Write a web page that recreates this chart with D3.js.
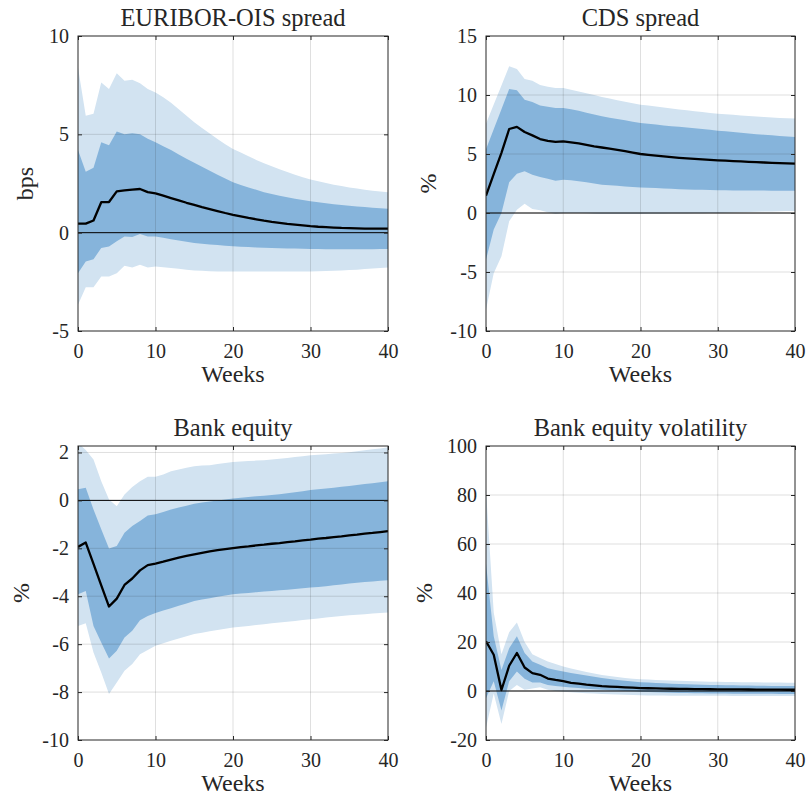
<!DOCTYPE html>
<meta charset="utf-8">
<style>
body { margin: 0; background: #fff; }
svg { font-family: "Liberation Serif", "Times New Roman", serif; }
.band-lo { fill: #d2e3f1; }
.band-hi { fill: #86b4db; }
.grid line { stroke: #262626; stroke-opacity: 0.15; stroke-width: 1; }
.median { fill: none; stroke: #000; stroke-width: 2.3; stroke-linejoin: round; }
.zero { stroke: #000; stroke-width: 1; }
.frame { fill: none; stroke: #262626; stroke-width: 1; }
</style>
<body>
<script src="https://cdn.jsdelivr.net/npm/d3@7"></script>
<script>

var FONT = "Liberation Serif";

var weeks = d3.range(0, 41);

// EURIBOR-OIS spread (bps)
var euriborMed  = [0.46,0.46,0.62,1.55,1.56,2.10,2.15,2.19,2.22,2.06,2.00,1.88,1.76,1.64,1.52,1.41,1.30,1.20,1.10,1.00,0.91,0.83,0.75,0.68,0.61,0.55,0.50,0.45,0.41,0.37,0.33,0.30,0.28,0.26,0.24,0.23,0.22,0.21,0.21,0.21,0.21];
var euriborHi68 = [4.20,3.10,3.30,4.60,4.45,5.15,5.00,5.05,5.00,4.78,4.60,4.40,4.20,3.98,3.76,3.55,3.35,3.15,2.95,2.75,2.56,2.43,2.30,2.18,2.06,1.96,1.88,1.80,1.73,1.66,1.60,1.55,1.50,1.45,1.41,1.37,1.33,1.30,1.27,1.24,1.22];
var euriborLo68 = [-2.06,-1.46,-1.35,-0.78,-0.70,-0.44,-0.19,-0.22,-0.07,-0.19,-0.19,-0.26,-0.33,-0.40,-0.46,-0.52,-0.56,-0.60,-0.63,-0.66,-0.69,-0.71,-0.73,-0.75,-0.77,-0.78,-0.79,-0.80,-0.81,-0.82,-0.83,-0.83,-0.84,-0.84,-0.84,-0.84,-0.84,-0.84,-0.84,-0.83,-0.83];
var euriborHi90 = [8.40,5.94,6.05,7.64,7.30,8.10,7.72,7.77,7.60,7.30,7.13,6.88,6.60,6.28,5.95,5.62,5.32,5.04,4.76,4.50,4.25,4.07,3.88,3.70,3.53,3.38,3.23,3.09,2.95,2.82,2.70,2.61,2.52,2.44,2.37,2.30,2.24,2.18,2.13,2.09,2.06];
var euriborLo90 = [-3.67,-2.77,-2.77,-2.23,-2.23,-2.06,-1.68,-1.77,-1.63,-1.77,-1.72,-1.76,-1.80,-1.84,-1.88,-1.92,-1.94,-1.96,-1.97,-1.97,-1.97,-1.98,-1.98,-1.98,-1.98,-1.98,-1.98,-1.98,-1.97,-1.97,-1.97,-1.96,-1.95,-1.94,-1.92,-1.90,-1.88,-1.85,-1.82,-1.80,-1.77];

// CDS spread (%)
var cdsMed  = [1.47,3.30,5.10,7.12,7.30,6.86,6.58,6.27,6.12,6.02,6.07,5.98,5.90,5.77,5.65,5.55,5.45,5.35,5.24,5.12,5.00,4.93,4.86,4.80,4.74,4.68,4.63,4.58,4.54,4.50,4.46,4.43,4.40,4.37,4.34,4.31,4.28,4.25,4.22,4.20,4.18];
var cdsHi68 = [5.40,7.10,8.80,10.50,10.40,9.60,9.40,9.10,9.00,8.90,8.90,8.80,8.66,8.50,8.35,8.20,8.08,7.96,7.85,7.74,7.63,7.56,7.49,7.42,7.36,7.30,7.24,7.18,7.12,7.05,6.98,6.92,6.86,6.80,6.74,6.68,6.63,6.58,6.53,6.48,6.44];
var cdsLo68 = [-3.95,-1.40,0.00,2.60,3.33,3.53,3.25,3.05,2.90,2.74,2.82,2.78,2.70,2.60,2.50,2.40,2.35,2.30,2.25,2.21,2.17,2.14,2.11,2.08,2.05,2.02,2.00,1.98,1.96,1.94,1.92,1.92,1.91,1.91,1.90,1.90,1.90,1.89,1.89,1.89,1.89];
var cdsHi90 = [7.57,9.20,10.80,12.43,12.20,11.36,11.20,10.85,10.70,10.60,10.60,10.45,10.30,10.15,10.00,9.83,9.70,9.56,9.43,9.30,9.18,9.10,9.02,8.94,8.86,8.78,8.70,8.62,8.55,8.48,8.42,8.37,8.32,8.27,8.22,8.17,8.13,8.09,8.06,8.03,8.00];
var cdsLo90 = [-8.20,-5.10,-3.67,-0.70,0.28,0.79,0.34,0.23,0.06,-0.08,0.00,0.00,0.00,-0.03,-0.06,-0.08,-0.08,-0.08,-0.08,-0.08,-0.08,-0.07,-0.07,-0.06,-0.05,-0.05,-0.04,-0.03,-0.02,-0.01,0.00,0.02,0.04,0.06,0.08,0.10,0.12,0.13,0.15,0.16,0.17];

// Bank equity (%)
var equityMed  = [-1.94,-1.76,-2.65,-3.55,-4.43,-4.10,-3.53,-3.26,-2.92,-2.70,-2.64,-2.56,-2.47,-2.39,-2.32,-2.25,-2.19,-2.13,-2.08,-2.03,-1.99,-1.95,-1.92,-1.88,-1.85,-1.81,-1.78,-1.74,-1.71,-1.67,-1.64,-1.60,-1.57,-1.53,-1.50,-1.46,-1.43,-1.39,-1.36,-1.32,-1.28];
var equityHi68 = [0.46,0.53,-0.38,-1.20,-2.01,-1.90,-1.35,-1.07,-0.86,-0.63,-0.58,-0.48,-0.38,-0.30,-0.22,-0.14,-0.09,-0.05,0.00,0.04,0.08,0.11,0.14,0.17,0.19,0.22,0.26,0.30,0.34,0.38,0.43,0.47,0.50,0.53,0.57,0.60,0.64,0.68,0.72,0.76,0.80];
var equityLo68 = [-3.92,-3.78,-5.24,-5.93,-6.60,-6.28,-5.72,-5.44,-5.00,-4.82,-4.70,-4.60,-4.50,-4.40,-4.30,-4.20,-4.14,-4.08,-4.02,-3.97,-3.92,-3.89,-3.86,-3.83,-3.80,-3.78,-3.75,-3.73,-3.70,-3.67,-3.64,-3.61,-3.58,-3.54,-3.51,-3.47,-3.44,-3.41,-3.38,-3.35,-3.33];
var equityHi90 = [2.40,2.10,1.71,0.80,0.04,-0.24,0.25,0.56,0.80,0.99,0.99,1.08,1.22,1.29,1.36,1.43,1.46,1.47,1.52,1.56,1.60,1.62,1.64,1.66,1.68,1.71,1.74,1.77,1.81,1.84,1.88,1.91,1.93,1.96,1.98,2.01,2.05,2.09,2.13,2.17,2.22];
var equityLo90 = [-5.24,-5.13,-6.35,-7.18,-8.08,-7.60,-7.11,-6.83,-6.42,-6.24,-6.07,-5.96,-5.86,-5.76,-5.67,-5.58,-5.52,-5.46,-5.41,-5.36,-5.31,-5.27,-5.24,-5.20,-5.17,-5.13,-5.10,-5.06,-5.03,-4.99,-4.96,-4.93,-4.89,-4.86,-4.82,-4.79,-4.77,-4.75,-4.72,-4.70,-4.68];

// Bank equity volatility (%)
var volMed  = [20.3,14.8,0.4,10.3,15.5,9.6,7.3,6.6,5.1,4.5,4.0,3.3,3.0,2.6,2.3,2.0,1.8,1.65,1.5,1.35,1.2,1.12,1.05,0.98,0.92,0.87,0.83,0.79,0.75,0.72,0.70,0.67,0.65,0.63,0.61,0.59,0.57,0.55,0.53,0.52,0.50];
var volHi68 = [52,22.3,8.6,17.5,22.3,15.5,12.0,10.7,9.3,8.6,8.0,7.3,6.8,6.3,5.8,5.3,4.9,4.5,4.2,3.9,3.6,3.45,3.3,3.15,3.0,2.9,2.8,2.7,2.6,2.5,2.42,2.36,2.3,2.25,2.2,2.16,2.12,2.08,2.05,2.02,2.0];
var volLo68 = [-3,4,-8,4,8,5,3.5,3.5,2.5,2.0,1.7,1.4,1.2,0.9,0.7,0.5,0.35,0.2,0.05,-0.1,-0.3,-0.4,-0.5,-0.6,-0.7,-0.78,-0.85,-0.9,-0.95,-1.0,-1.02,-1.05,-1.08,-1.1,-1.12,-1.14,-1.16,-1.17,-1.18,-1.19,-1.2];
var volHi90 = [82,32,15,24,28,20,15,13.5,12,11,10,9.2,8.5,7.8,7.1,6.5,6.1,5.7,5.3,5.0,4.8,4.65,4.5,4.38,4.26,4.15,4.05,3.96,3.88,3.82,3.76,3.71,3.66,3.61,3.57,3.53,3.49,3.46,3.43,3.41,3.4];
var volLo90 = [-15,-1,-13.5,0,2.5,0.5,1,1.5,0.5,0,-0.3,-0.5,-0.7,-0.9,-1.05,-1.2,-1.32,-1.44,-1.55,-1.65,-1.75,-1.8,-1.85,-1.88,-1.9,-1.92,-1.94,-1.95,-1.96,-1.97,-1.98,-1.98,-1.99,-1.99,-2,-2,-2,-2,-2,-2,-2];

var titles = ["EURIBOR-OIS spread", "CDS spread", "Bank equity", "Bank equity volatility"];
var yLabels = ["bps", "%", "%", "%"];
var yDomains = [[-5, 10], [-10, 15], [-10, 2.27], [-20, 100]];
var yTicks = [[-5, 0, 5, 10], [-10, -5, 0, 5, 10, 15], [-10, -8, -6, -4, -2, 0, 2], [-20, 0, 20, 40, 60, 80, 100]];
var xTicks = [0, 10, 20, 30, 40];

var series = [
  {med: euriborMed, hi68: euriborHi68, lo68: euriborLo68, hi90: euriborHi90, lo90: euriborLo90},
  {med: cdsMed, hi68: cdsHi68, lo68: cdsLo68, hi90: cdsHi90, lo90: cdsLo90},
  {med: equityMed, hi68: equityHi68, lo68: equityLo68, hi90: equityHi90, lo90: equityLo90},
  {med: volMed, hi68: volHi68, lo68: volLo68, hi90: volHi90, lo90: volLo90}
];

// panel boxes in page pixels
var boxes = [
  {left: 78, top: 36, right: 388, bottom: 331, ylab: 33},
  {left: 486, top: 36, right: 795, bottom: 331, ylab: 436},
  {left: 78, top: 446, right: 388, bottom: 740, ylab: 29},
  {left: 486, top: 446, right: 795, bottom: 740, ylab: 432}
];

var svg = d3.select("body").append("svg")
    .attr("width", 806)
    .attr("height", 798)
    .attr("font-family", FONT);

function txt(sel, size) {
  return sel.attr("font-family", FONT).attr("font-size", size).attr("fill", "#262626");
}

boxes.forEach(function(b, i) {
  var w = b.right - b.left, h = b.bottom - b.top;
  var s = series[i];
  var g = svg.append("g").attr("transform", "translate(" + b.left + "," + b.top + ")");

  var x = d3.scaleLinear().domain([0, 40]).range([0, w]);
  var y = d3.scaleLinear().domain(yDomains[i]).range([h, 0]);

  var clipId = "clip" + i;
  g.append("clipPath").attr("id", clipId)
    .append("rect").attr("width", w).attr("height", h);

  var plot = g.append("g").attr("clip-path", "url(#" + clipId + ")");

  var band = function(lo, hi) {
    return d3.area()
      .x(function(d) { return x(d); })
      .y0(function(d) { return y(lo[d]); })
      .y1(function(d) { return y(hi[d]); });
  };

  plot.append("path").attr("class", "band-lo").attr("d", band(s.lo90, s.hi90)(weeks));
  plot.append("path").attr("class", "band-hi").attr("d", band(s.lo68, s.hi68)(weeks));

  // grid on top of the bands
  var grid = g.append("g").attr("class", "grid");
  grid.selectAll(".gx").data(xTicks.slice(1, -1)).enter().append("line")
    .attr("x1", x).attr("x2", x).attr("y1", 0).attr("y2", h);
  grid.selectAll(".gy").data(yTicks[i].filter(function(t) { return y(t) > 1 && y(t) < h - 1; }))
    .enter().append("line")
    .attr("x1", 0).attr("x2", w).attr("y1", y).attr("y2", y);

  plot.append("line").attr("class", "zero")
    .attr("x1", 0).attr("x2", w).attr("y1", y(0)).attr("y2", y(0));

  plot.append("path").attr("class", "median")
    .attr("d", d3.line().x(function(d) { return x(d); }).y(function(d) { return y(s.med[d]); })(weeks));

  // axes, ticks pointing inwards
  var fmt = function(d) { return String(d); };
  var axes = [
    g.append("g").attr("transform", "translate(0," + h + ")")
      .call(d3.axisBottom(x).tickValues(xTicks).tickSize(-4).tickPadding(13).tickFormat(fmt)),
    g.append("g")
      .call(d3.axisTop(x).tickValues(xTicks).tickSize(-4).tickFormat("")),
    g.append("g")
      .call(d3.axisLeft(y).tickValues(yTicks[i]).tickSize(-4).tickPadding(9).tickFormat(fmt)),
    g.append("g").attr("transform", "translate(" + w + ",0)")
      .call(d3.axisRight(y).tickValues(yTicks[i]).tickSize(-4).tickFormat(""))
  ];
  axes.forEach(function(a) { a.attr("font-family", FONT).attr("font-size", 20); });

  g.selectAll(".domain").remove();
  g.selectAll(".tick line").attr("stroke", "#262626");
  txt(g.selectAll(".tick text"), 20);

  g.append("rect").attr("class", "frame").attr("width", w).attr("height", h);

  txt(g.append("text"), 24.5)
    .attr("x", w / 2).attr("y", -10)
    .attr("text-anchor", "middle")
    .text(titles[i]);

  txt(g.append("text"), 24)
    .attr("x", w / 2).attr("y", h + 51)
    .attr("text-anchor", "middle")
    .text("Weeks");

  txt(svg.append("text"), 24)
    .attr("transform", "translate(" + b.ylab + "," + (b.top + h / 2) + ") rotate(-90)")
    .attr("text-anchor", "middle")
    .text(yLabels[i]);
});

</script>
</body>
